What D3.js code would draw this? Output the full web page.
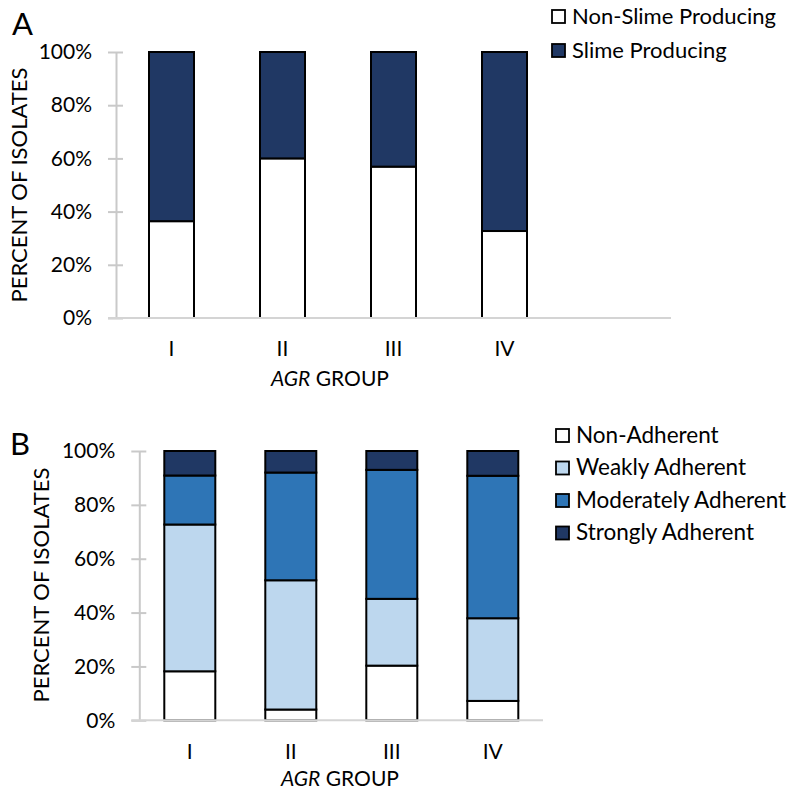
<!DOCTYPE html>
<html><head><meta charset="utf-8">
<script src="https://cdn.jsdelivr.net/npm/d3@7"></script>
<style>
html,body{margin:0;padding:0;background:#fff;}
svg{display:block;font-family:Lato, "Open Sans", sans-serif;}
</style></head>
<body>
<svg id="chart" width="788" height="796"></svg>
<script>
// ---------- data ----------
const groups = ["I", "II", "III", "IV"];
const yTicks = [0, 20, 40, 60, 80, 100];
const yTickLabels = ["0%", "20%", "40%", "60%", "80%", "100%"];

// Panel A
const slimeSeries = ["Non-Slime Producing", "Slime Producing"];
const nonSlime = [36.4, 60.0, 56.9, 32.7];
const slime    = [63.6, 40.0, 43.1, 67.3];
const slimeColors = ["#ffffff", "#203864"];

// Panel B
const adhSeries = ["Non-Adherent", "Weakly Adherent", "Moderately Adherent", "Strongly Adherent"];
const nonAdherent = [18.2, 4.0, 20.3, 7.2];
const weakly      = [54.5, 48.0, 24.8, 30.7];
const moderately  = [18.2, 40.0, 47.9, 52.9];
const strongly    = [9.1, 8.0, 7.0, 9.2];
const adhColors = ["#ffffff", "#bdd7ee", "#2e75b6", "#203864"];

const xTitle = "GROUP", xTitleItalic = "AGR";
const yTitle = "PERCENT OF ISOLATES";

const svg = d3.select("#chart");
const AXIS = "#c9c9c9";
const TXT = "#000";

function panel(cfg) {
  const g = svg.append("g");
  const rows = groups.map((grp, i) => {
    const o = { group: grp };
    cfg.series.forEach((s, k) => o[s] = cfg.values[k][i]);
    return o;
  });
  const stacked = d3.stack().keys(cfg.series)(rows);
  const x = d3.scaleBand().domain(groups).range(cfg.xRange)
    .paddingInner(cfg.padIn).paddingOuter(cfg.padIn / 2);
  const y = d3.scaleLinear().domain([0, 100]).range(cfg.yRange);

  // y axis
  const ax = g.append("g").attr("transform", `translate(${cfg.xRange[0]},0)`)
    .call(d3.axisLeft(y).tickValues(yTicks).tickSize(8).tickSizeOuter(0).tickPadding(16)
      .tickFormat((d, i) => yTickLabels[i]));
  ax.select(".domain").attr("stroke", AXIS).attr("stroke-width", 2);
  ax.selectAll(".tick line").attr("stroke", AXIS).attr("stroke-width", 2).attr("x1", 7);
  ax.selectAll(".tick text").attr("fill", TXT).attr("font-size", cfg.tickFont)
    .attr("font-family", "Lato");

  // bars
  g.append("g").selectAll("g").data(stacked).join("g")
    .attr("fill", (d, k) => cfg.colors[k])
    .selectAll("rect").data(d => d).join("rect")
    .attr("x", d => x(d.data.group))
    .attr("width", x.bandwidth())
    .attr("y", d => y(d[1]))
    .attr("height", d => y(d[0]) - y(d[1]))
    .attr("stroke", "#000").attr("stroke-width", 2);

  // baseline
  g.append("line").attr("x1", cfg.xRange[0] - 8).attr("x2", cfg.baseEnd)
    .attr("y1", y(0)).attr("y2", y(0)).attr("stroke", "#d4d4d4").attr("stroke-width", 2);

  // x labels
  g.append("g").selectAll("text").data(groups).join("text")
    .attr("x", d => x(d) + x.bandwidth() / 2).attr("y", cfg.xLabelY)
    .attr("text-anchor", "middle").attr("font-size", cfg.tickFont).attr("fill", TXT)
    .text(d => d);

  const xt = g.append("text").attr("x", cfg.xTitleX).attr("y", cfg.xTitleY)
    .attr("text-anchor", "middle").attr("font-size", cfg.xTitleFont).attr("fill", TXT);
  xt.append("tspan").attr("font-style", "italic").text(xTitleItalic);
  xt.append("tspan").text(" " + xTitle);

  g.append("text").attr("transform", `translate(${cfg.yTitleX},${cfg.yTitleY}) rotate(-90)`)
    .attr("text-anchor", "middle").attr("font-size", cfg.yTitleFont).attr("fill", TXT)
    .text(yTitle);

  // panel letter
  g.append("text").attr("x", cfg.letterX).attr("y", cfg.letterY)
    .attr("font-size", 31).attr("fill", "#000").text(cfg.letter);

  // legend
  const lg = g.append("g");
  cfg.series.forEach((s, k) => {
    const yy = cfg.legY + k * cfg.legStep;
    lg.append("rect").attr("x", cfg.legX).attr("y", yy).attr("width", 13).attr("height", 13)
      .attr("fill", cfg.colors[k]).attr("stroke", "#000").attr("stroke-width", 1.8);
    lg.append("text").attr("x", cfg.legX + 20).attr("y", yy + 13.5)
      .attr("font-size", cfg.legFont).attr("fill", TXT).text(s);
  });
}

panel({
  letter: "A", letterX: 12, letterY: 35,
  series: slimeSeries, values: [nonSlime, slime], colors: slimeColors,
  xRange: [116, 560], padIn: 1 - 45 / 111, yRange: [318, 52], baseEnd: 671,
  xLabelY: 356, xTitleX: 330, xTitleY: 386, yTitleX: 27, yTitleY: 185,
  tickFont: 21, xTitleFont: 21, yTitleFont: 22,
  legX: 552, legY: 10, legStep: 34, legFont: 22
});

panel({
  letter: "B", letterX: 10, letterY: 455,
  series: adhSeries, values: [nonAdherent, weakly, moderately, strongly], colors: adhColors,
  xRange: [139.3, 543.3], padIn: 1 - 51 / 101, yRange: [720.3, 451], baseEnd: 543,
  xLabelY: 759, xTitleX: 340, xTitleY: 786, yTitleX: 49, yTitleY: 585,
  tickFont: 21, xTitleFont: 21, yTitleFont: 22,
  legX: 556, legY: 429, legStep: 32.5, legFont: 22.5
});
</script>
</body></html>
